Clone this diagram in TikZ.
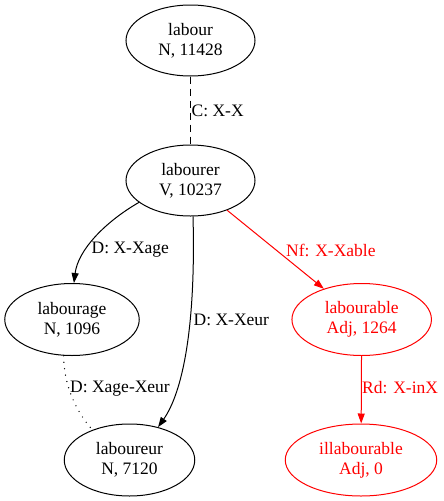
\documentclass[tikz,border=0pt]{standalone}
\usepackage{fontspec}
\setmainfont{Liberation Serif}
\usetikzlibrary{shapes.geometric,arrows.meta}
\begin{document}
\begin{tikzpicture}[x=1pt,y=-1pt,
  nd/.style={ellipse,draw,line width=1pt,inner sep=0pt,align=center,
    font=\fontsize{17.5}{20}\selectfont,minimum height=71pt},
  lab/.style={font=\fontsize{17.5}{20}\selectfont,anchor=west,inner sep=0pt},
  edg/.style={line width=1pt},
  arr/.style={edg,-{Triangle[length=10pt,width=7pt]}},
  redc/.style={red}]
\useasboundingbox (0,0) rectangle (444,501);
\node[nd,minimum width=129pt] (labour) at (190.5,40.5) {labour\\N, 11428};
\node[nd,minimum width=129pt] (labourer) at (190.5,180.5) {labourer\\V, 10237};
\node[nd,minimum width=134.5pt,minimum height=72pt] (labourage) at (72,319.5) {labourage\\N, 1096};
\node[nd,minimum width=139.5pt,minimum height=72pt,redc] (labourable) at (361.7,319.5) {labourable\\Adj, 1264};
\node[nd,minimum width=130.5pt,minimum height=72pt] (laboureur) at (129.5,460) {laboureur\\N, 7120};
\node[nd,minimum width=151.5pt,minimum height=72pt,redc] (illabourable) at (361,460) {illabourable\\Adj, 0};

\draw[edg,dash pattern=on 7pt off 5pt] (labour) -- (labourer);
\node[lab] (l1) at (191.5,111) {C: X-X};

\draw[arr] (labourer.203) .. controls (105,222) and (78,250) .. (labourage.87);
\node[lab] (l2) at (91.5,250) {D: X-Xage};

\draw[arr] (labourer.274) .. controls (196,330) and (182,393) .. (laboureur.49);
\node[lab] (l3) at (193.5,320) {D: X-Xeur};

\draw[line width=1.4pt,line cap=round,dash pattern=on 0pt off 6.5pt] (labourage.257) .. controls (64,385) and (75,410) .. (laboureur.141);
\node[lab] (l4) at (70,389) {D: Xage-Xeur};

\draw[arr,red] (labourer) -- (labourable);
\node[lab,red] (l5) at (286,250) {Nf: X-Xable};

\draw[arr,red] (labourable) -- (illabourable);
\node[lab,red] (l6) at (362,388) {Rd: X-inX};
\end{tikzpicture}
\end{document}
